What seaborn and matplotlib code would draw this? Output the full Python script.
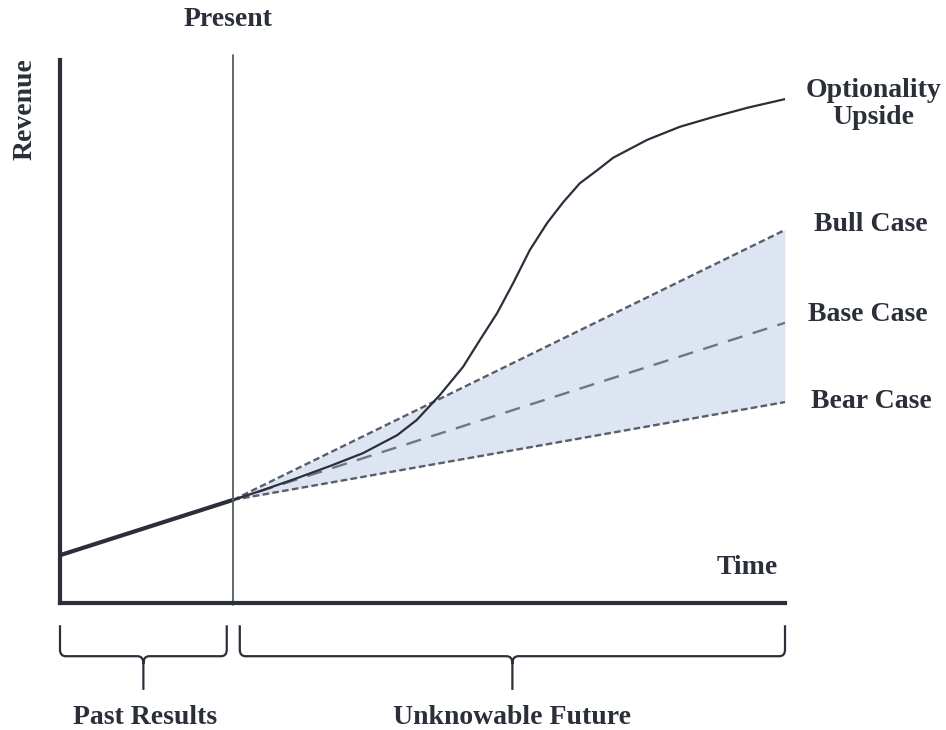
import numpy as np
import pandas as pd
import matplotlib.pyplot as plt
from matplotlib.path import Path
from matplotlib.patches import PathPatch
import seaborn as sns

# Conceptual chart: time 0..10, revenue 0..10
present_t = 2.39

past_time = [0.0, 2.39]
past_revenue = [0.88, 1.90]

scenario_names = ["Bull Case", "Base Case", "Bear Case"]
scenario_time = [2.39, 10.0]
scenario_start = [1.90, 1.90, 1.90]
scenario_end = [6.87, 5.16, 3.70]

upside_time = [2.39, 2.80, 3.27, 3.72, 4.18, 4.65, 4.92, 5.24, 5.56, 5.79, 6.03,
               6.25, 6.48, 6.72, 6.94, 7.17, 7.41, 7.63, 8.10, 8.55, 9.01, 9.48, 10.0]
upside_revenue = [1.90, 2.08, 2.30, 2.52, 2.76, 3.09, 3.37, 3.83, 4.35, 4.84, 5.34,
                  5.89, 6.50, 7.00, 7.38, 7.73, 7.97, 8.20, 8.53, 8.77, 8.95, 9.12, 9.28]

ink = "#2b2f3a"

sns.set_style("white")
plt.rcParams["font.family"] = ["Liberation Serif", "DejaVu Serif"]

fig = plt.figure(figsize=(9.46, 7.30), dpi=100)
W, H = 946, 730
ax = fig.add_axes([60 / W, 127 / H, 725 / W, 543 / H])


def px(x, y):
    return x / W, 1 - y / H


# shaded cone between bear and bull
ax.fill_between(scenario_time, [scenario_start[2], scenario_end[2]],
                [scenario_start[0], scenario_end[0]], color="#dde5f3", lw=0)

rows = []
for name, s, e in zip(scenario_names, scenario_start, scenario_end):
    rows.append({"t": scenario_time[0], "rev": s, "case": name})
    rows.append({"t": scenario_time[1], "rev": e, "case": name})
scen = pd.DataFrame(rows)
sns.lineplot(data=scen, x="t", y="rev", hue="case", style="case", ax=ax,
             palette={"Bull Case": "#595e69", "Base Case": "#70757f", "Bear Case": "#595e69"},
             dashes={"Bull Case": (2.8, 1.4), "Base Case": (6.5, 4.5), "Bear Case": (2.8, 1.4)},
             linewidth=1.7, legend=False, estimator=None)

sns.lineplot(x=upside_time, y=upside_revenue, ax=ax, color=ink, linewidth=1.6,
             estimator=None, sort=False)
sns.lineplot(x=past_time, y=past_revenue, ax=ax, color=ink, linewidth=3,
             estimator=None)

# present marker
ax.plot([present_t, present_t], [-0.04, 10.09], color="#555a63", lw=1.3, clip_on=False)

ax.set_xlim(0, 10)
ax.set_ylim(0, 10)
ax.set_xticks([])
ax.set_yticks([])
ax.set_xlabel("")
ax.set_ylabel("")
for side in ["top", "right"]:
    ax.spines[side].set_visible(False)
for side in ["left", "bottom"]:
    ax.spines[side].set_linewidth(3)
    ax.spines[side].set_color(ink)


def brace(x0, x1, color=ink):
    xm = (x0 + x1) / 2
    top, mid, tip = -0.41, -0.98, -1.60
    r = 0.08
    verts = [(x0, top), (x0, mid + 0.12), (x0, mid), (x0 + r, mid),
             (xm - r, mid), (xm, mid), (xm, mid - 0.14), (xm, tip),
             (xm, mid - 0.14), (xm, mid), (xm + r, mid),
             (x1 - r, mid), (x1, mid), (x1, mid + 0.12), (x1, top)]
    codes = [Path.MOVETO, Path.LINETO, Path.CURVE3, Path.CURVE3,
             Path.LINETO, Path.CURVE3, Path.CURVE3, Path.LINETO,
             Path.MOVETO, Path.CURVE3, Path.CURVE3,
             Path.LINETO, Path.CURVE3, Path.CURVE3, Path.LINETO]
    ax.add_patch(PathPatch(Path(verts, codes), fill=False, ec=color, lw=1.6,
                           clip_on=False, transform=ax.transData))


brace(0.0, 2.30)
brace(2.48, 10.0)

fs = 20
kw = dict(color=ink, fontweight="bold", fontsize=fs)
fig.text(*px(228, 20), "Present", ha="center", va="center", **kw)
fig.text(*px(25, 109), "Revenue", ha="center", va="center", rotation=90, **kw)
fig.text(*px(873, 104), "Optionality\nUpside", ha="center", va="center",
         linespacing=1.1, **kw)
fig.text(*px(871, 224), "Bull Case", ha="center", va="center", **kw)
fig.text(*px(868, 315), "Base Case", ha="center", va="center", **kw)
fig.text(*px(871, 401), "Bear Case", ha="center", va="center", **kw)
fig.text(*px(747, 567), "Time", ha="center", va="center", **kw)
fig.text(*px(145, 717), "Past Results", ha="center", va="center", **kw)
fig.text(*px(512, 717), "Unknowable Future", ha="center", va="center", **kw)

fig.savefig("out.png", dpi=100)
